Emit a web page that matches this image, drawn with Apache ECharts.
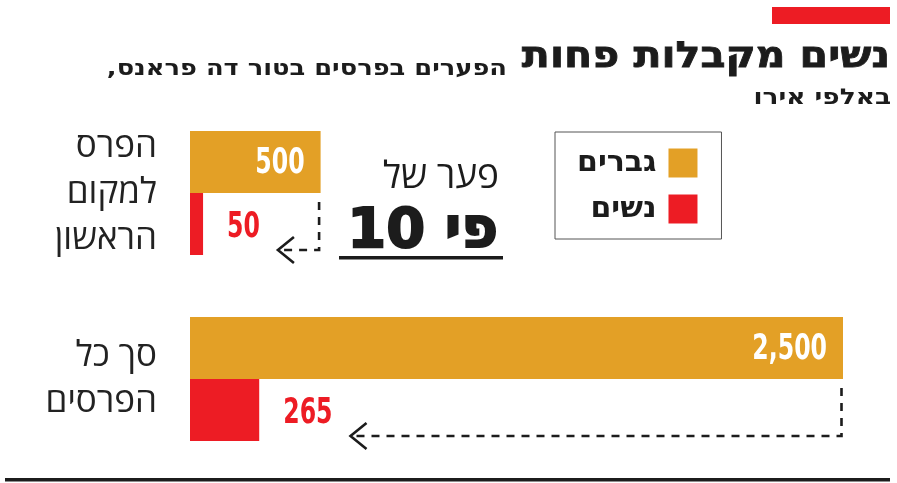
<!DOCTYPE html>
<html><head><meta charset="utf-8">
<script src="https://cdn.jsdelivr.net/npm/echarts@6/dist/echarts.min.js"></script>
<style>html,body{margin:0;padding:0;background:#fff}#c{width:897px;height:483px}</style>
</head><body><div id="c"></div>
<script>
// ---- data ----
const categories = ['הפרס\nלמקום\nהראשון', 'סך כל\nהפרסים'];
const seriesNames = ['גברים', 'נשים'];
const menValues = [500, 2500];
const womenValues = [50, 265];
const gapLine1 = 'פער של';
const gapLine2 = 'פי 10';
const titleText = 'נשים מקבלות פחות';
const subtitleText = 'הפערים בפרסים בטור דה פראנס,';
const unitText = 'באלפי אירו';

// ---- styles ----
const ORANGE = '#E3A026', RED = '#ED1C24', INK = '#1c1c1c';
const NUM_FONT = '"DejaVu Sans Condensed","DejaVu Sans",sans-serif';
const NUM_CSS = 'bold 35px ' + NUM_FONT;
const NUM_SCALE = 0.75;
const HEB_BOLD = '"DejaVu Sans","Liberation Sans",sans-serif';
const HEB_LIGHT = '"Open Sans","Liberation Sans","DejaVu Sans",sans-serif';
const BAR_W = 62;
const WOMEN_LABEL_DIST = 24;
const MEN_LABEL_DIST = 16;
const rtl = s => '\u202B' + s + '\u202C';

const measureCtx = document.createElement('canvas').getContext('2d');
function textW(t) {
  measureCtx.font = NUM_CSS;
  return measureCtx.measureText(t).width * NUM_SCALE;
}
const fmt = v => echarts.format.addCommas(v);

const chart = echarts.init(document.getElementById('c'), null, {renderer: 'canvas'});

const annoData = categories.map((c, i) => [menValues[i], womenValues[i], i]);

chart.setOption({
  animation: false,
  backgroundColor: '#fff',
  grid: {left: 190, top: 100, width: 653, height: 372, containLabel: false},
  xAxis: {type: 'value', min: 0, max: 2500, show: false},
  yAxis: {
    type: 'category', data: categories, inverse: true,
    axisLine: {show: false}, axisTick: {show: false}, splitLine: {show: false},
    axisLabel: {
      margin: 33, fontSize: 35, fontWeight: 'normal', fontFamily: HEB_LIGHT,
      color: '#222', lineHeight: 46, formatter: v => v.split('\n').map(rtl).join('\n')
    }
  },
  legend: {
    data: seriesNames, orient: 'vertical', left: 555, top: 132,
    align: 'right', icon: 'rect', itemWidth: 29, itemHeight: 29, itemGap: 16,
    padding: [16, 24, 15, 22], borderColor: '#555', borderWidth: 1,
    selectedMode: false,
    textStyle: {fontSize: 30, fontWeight: 'bold', fontFamily: HEB_BOLD, color: INK,
      padding: [0, 7, 0, 0]}
  },
  series: [
    {name: seriesNames[0], type: 'bar', data: menValues, barWidth: BAR_W, barGap: '0%',
      itemStyle: {color: ORANGE}},
    {name: seriesNames[1], type: 'bar', data: womenValues, barWidth: BAR_W, barGap: '0%',
      itemStyle: {color: RED}},
    {
      type: 'custom', silent: true, data: annoData, encode: {x: 0, y: 2}, z: 5,
      renderItem: (params, api) => {
        const menV = api.value(0), womV = api.value(1), idx = api.value(2);
        const c = api.coord([menV, idx]);
        const xW = api.coord([womV, idx])[0];
        const menTxt = fmt(menV), womTxt = fmt(womV);
        const womX = xW + WOMEN_LABEL_DIST;
        const tip = womX + textW(womTxt) + 18;
        const xEnd = c[0] - 1.5;
        const yTop = c[1] + 9;
        const yLine = c[1] + BAR_W - 5;
        const st = {stroke: INK, lineWidth: 2.6, fill: null};
        return {type: 'group', children: [
          {type: 'text', x: c[0] - MEN_LABEL_DIST, y: c[1] - BAR_W / 2 + 1.5, scaleX: NUM_SCALE,
            style: {text: menTxt, font: NUM_CSS, fill: '#fff', align: 'right', verticalAlign: 'middle'}},
          {type: 'text', x: womX, y: c[1] + BAR_W / 2 + 4, scaleX: NUM_SCALE,
            style: {text: womTxt, font: NUM_CSS, fill: RED, align: 'left', verticalAlign: 'middle'}},
          {type: 'polyline', shape: {points: [[xEnd, yTop], [xEnd, yLine], [tip + 3, yLine]]},
            style: Object.assign({lineDash: [8, 7]}, st)},
          {type: 'polyline', shape: {points: [[tip + 16, yLine - 13], [tip, yLine], [tip + 16, yLine + 13]]},
            style: st}
        ]};
      }
    }
  ],
  graphic: [
    {type: 'rect', shape: {x: 772, y: 7, width: 118, height: 17}, style: {fill: RED}},
    {type: 'text', x: 890, y: 58, scaleX: 1.14, style: {text: rtl(titleText), align: 'right', verticalAlign: 'middle',
      font: 'bold 36px ' + HEB_BOLD, fill: INK, stroke: INK, lineWidth: 0.8}},
    {type: 'text', x: 507, y: 69, scaleX: 1.17, style: {text: rtl(subtitleText), align: 'right', verticalAlign: 'middle',
      font: 'bold 22px ' + HEB_BOLD, fill: INK}},
    {type: 'text', x: 891, y: 98, scaleX: 1.2, style: {text: rtl(unitText), align: 'right', verticalAlign: 'middle',
      font: 'bold 22px ' + HEB_BOLD, fill: INK}},
    {type: 'text', x: 499, y: 177, style: {text: rtl(gapLine1), align: 'right', verticalAlign: 'middle',
      font: 'normal 37px ' + HEB_LIGHT, fill: INK}},
    {type: 'text', x: 498, y: 232, style: {text: rtl(gapLine2), align: 'right', verticalAlign: 'middle',
      font: '900 56px ' + HEB_BOLD, fill: INK, stroke: INK, lineWidth: 2}},
    {type: 'rect', shape: {x: 339, y: 256, width: 164, height: 3.5}, style: {fill: INK}},
    {type: 'rect', shape: {x: 5, y: 478, width: 885, height: 3.5}, style: {fill: INK}}
  ]
});
</script>
</body></html>
